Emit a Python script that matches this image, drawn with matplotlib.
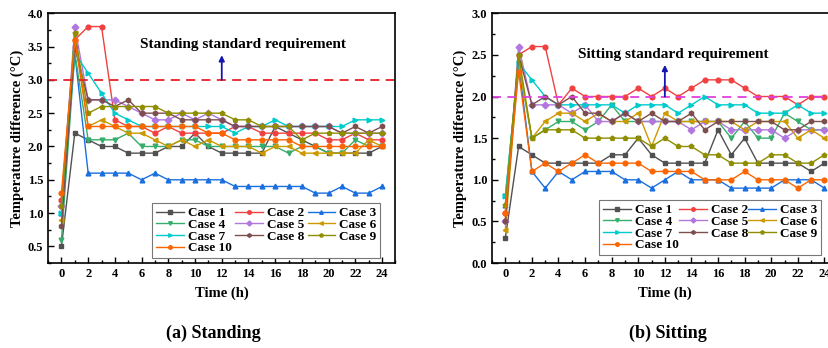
import matplotlib
matplotlib.use("Agg")
import matplotlib.pyplot as plt
from matplotlib.ticker import MultipleLocator

plt.rcParams['font.family'] = ['Liberation Serif', 'DejaVu Serif']
plt.rcParams['font.weight'] = 'bold'
plt.rcParams['axes.labelweight'] = 'bold'

hours = list(range(25))
case_labels = ['Case 1', 'Case 2', 'Case 3', 'Case 4', 'Case 5',
               'Case 6', 'Case 7', 'Case 8', 'Case 9', 'Case 10']

# (a) standing
stand_1 = [0.5, 2.2, 2.1, 2.0, 2.0, 1.9, 1.9, 1.9, 2.0, 2.0, 2.2, 2.0, 1.9, 1.9, 1.9, 1.9, 2.3, 2.2, 2.1, 2.0, 1.9, 1.9, 1.9, 1.9, 2.0]
stand_2 = [1.2, 3.6, 3.8, 3.8, 2.4, 2.3, 2.3, 2.2, 2.3, 2.2, 2.2, 2.2, 2.2, 2.3, 2.3, 2.2, 2.2, 2.2, 2.2, 2.2, 2.1, 2.1, 2.2, 2.1, 2.1]
stand_3 = [1.0, 3.4, 1.6, 1.6, 1.6, 1.6, 1.5, 1.6, 1.5, 1.5, 1.5, 1.5, 1.5, 1.4, 1.4, 1.4, 1.4, 1.4, 1.4, 1.3, 1.3, 1.4, 1.3, 1.3, 1.4]
stand_4 = [0.6, 3.4, 2.1, 2.1, 2.1, 2.2, 2.0, 2.0, 2.0, 2.1, 2.1, 2.0, 2.0, 2.0, 2.0, 2.0, 2.0, 1.9, 2.0, 2.0, 1.9, 1.9, 2.1, 2.0, 2.0]
stand_5 = [1.1, 3.8, 2.7, 2.7, 2.7, 2.6, 2.5, 2.4, 2.4, 2.5, 2.4, 2.5, 2.4, 2.3, 2.3, 2.3, 2.3, 2.3, 2.3, 2.3, 2.3, 2.2, 2.2, 2.2, 2.2]
stand_6 = [0.9, 3.7, 2.3, 2.4, 2.3, 2.2, 2.2, 2.1, 2.0, 2.1, 2.0, 2.1, 2.0, 2.0, 2.0, 1.9, 2.0, 2.0, 1.9, 1.9, 1.9, 1.9, 1.9, 2.1, 2.0]
stand_7 = [1.0, 3.4, 3.1, 2.8, 2.5, 2.4, 2.3, 2.3, 2.3, 2.3, 2.3, 2.3, 2.3, 2.2, 2.3, 2.3, 2.4, 2.3, 2.3, 2.3, 2.3, 2.3, 2.4, 2.4, 2.4]
stand_8 = [0.8, 3.5, 2.7, 2.7, 2.6, 2.7, 2.5, 2.5, 2.5, 2.4, 2.4, 2.4, 2.4, 2.3, 2.3, 2.3, 2.3, 2.3, 2.3, 2.3, 2.3, 2.2, 2.3, 2.2, 2.3]
stand_9 = [1.1, 3.7, 2.5, 2.6, 2.6, 2.6, 2.6, 2.6, 2.5, 2.5, 2.5, 2.5, 2.5, 2.4, 2.4, 2.3, 2.3, 2.3, 2.1, 2.2, 2.2, 2.2, 2.2, 2.2, 2.2]
stand_10 = [1.3, 3.6, 2.3, 2.3, 2.3, 2.3, 2.3, 2.3, 2.3, 2.3, 2.3, 2.2, 2.2, 2.1, 2.1, 2.1, 2.1, 2.1, 2.0, 2.0, 2.0, 2.0, 2.0, 2.0, 2.0]

# (b) sitting
sit_1 = [0.3, 1.4, 1.3, 1.2, 1.2, 1.2, 1.2, 1.2, 1.3, 1.3, 1.5, 1.3, 1.2, 1.2, 1.2, 1.2, 1.6, 1.3, 1.5, 1.2, 1.2, 1.2, 1.2, 1.1, 1.2]
sit_2 = [0.6, 2.5, 2.6, 2.6, 1.9, 2.1, 2.0, 2.0, 2.0, 2.0, 2.1, 2.0, 2.1, 2.0, 2.1, 2.2, 2.2, 2.2, 2.1, 2.0, 2.0, 2.0, 1.9, 2.0, 2.0]
sit_3 = [0.7, 2.4, 1.1, 0.9, 1.1, 1.0, 1.1, 1.1, 1.1, 1.0, 1.0, 0.9, 1.0, 1.1, 1.0, 1.0, 1.0, 0.9, 0.9, 0.9, 0.9, 1.0, 1.0, 1.0, 0.9]
sit_4 = [0.8, 2.4, 1.5, 1.6, 1.7, 1.7, 1.6, 1.7, 1.9, 1.7, 1.7, 1.7, 1.7, 1.7, 1.7, 1.7, 1.7, 1.5, 1.7, 1.5, 1.5, 1.8, 1.7, 1.6, 1.6]
sit_5 = [0.5, 2.6, 1.9, 1.9, 1.9, 1.8, 1.9, 1.7, 1.7, 1.8, 1.7, 1.7, 1.7, 1.7, 1.6, 1.7, 1.7, 1.6, 1.6, 1.6, 1.6, 1.5, 1.6, 1.6, 1.6]
sit_6 = [0.4, 2.4, 1.5, 1.7, 1.8, 1.8, 1.7, 1.8, 1.7, 1.7, 1.8, 1.4, 1.8, 1.7, 1.7, 1.7, 1.7, 1.7, 1.6, 1.7, 1.7, 1.7, 1.5, 1.6, 1.5]
sit_7 = [0.8, 2.4, 2.2, 2.0, 1.9, 1.9, 1.9, 1.9, 1.9, 1.8, 1.9, 1.9, 1.9, 1.8, 1.9, 2.0, 1.9, 1.9, 1.9, 1.8, 1.8, 1.8, 1.9, 1.8, 1.8]
sit_8 = [0.5, 2.5, 1.9, 2.0, 1.9, 2.0, 1.8, 1.8, 1.7, 1.8, 1.7, 1.8, 1.7, 1.7, 1.8, 1.6, 1.7, 1.7, 1.7, 1.7, 1.7, 1.6, 1.6, 1.7, 1.7]
sit_9 = [0.7, 2.5, 1.5, 1.6, 1.6, 1.6, 1.5, 1.5, 1.5, 1.5, 1.5, 1.4, 1.5, 1.4, 1.4, 1.3, 1.3, 1.2, 1.2, 1.2, 1.3, 1.3, 1.2, 1.2, 1.3]
sit_10 = [0.6, 2.3, 1.1, 1.2, 1.1, 1.2, 1.3, 1.2, 1.2, 1.2, 1.2, 1.1, 1.1, 1.1, 1.1, 1.0, 1.0, 1.0, 1.1, 1.0, 1.0, 1.0, 0.9, 1.0, 1.0]

stand_limit = 3.0
sit_limit = 2.0

standing = [stand_1, stand_2, stand_3, stand_4, stand_5, stand_6, stand_7, stand_8, stand_9, stand_10]
sitting = [sit_1, sit_2, sit_3, sit_4, sit_5, sit_6, sit_7, sit_8, sit_9, sit_10]

colors = ['#515151', '#F14040', '#1A6FDF', '#37AD6B', '#B177DE',
          '#CC9900', '#00CBCC', '#7D4E4E', '#8E8E00', '#FB6501']
markers = ['s', 'o', '^', 'v', 'D', '<', '>', 'h', 'p', 'o']


def draw_panel(ax, series, ymax, ymin, limit, limit_color, note, note_x, note_y,
               arrow_top, leg_anchor, colspace):
    for vals, lab, c, m in zip(series, case_labels, colors, markers):
        ax.plot(hours, vals, color=c, marker=m, markersize=3.4, lw=1.0, label=lab)
    ax.axhline(limit, color=limit_color, lw=1.3, ls=(0, (5, 3.5)))
    ax.annotate('', xy=(12, arrow_top), xytext=(12, limit),
                arrowprops=dict(arrowstyle='-|>', color='#1515B0', lw=1.3,
                                mutation_scale=8, shrinkA=0, shrinkB=0))
    ax.text(note_x, note_y, note, ha='center', va='center', fontsize=11, fontweight='bold')

    ax.set_xlim(-1, 25)
    ax.set_ylim(ymin, ymax)
    ax.xaxis.set_major_locator(MultipleLocator(2))
    ax.xaxis.set_minor_locator(MultipleLocator(1))
    ax.yaxis.set_major_locator(MultipleLocator(0.5))
    ax.yaxis.set_minor_locator(MultipleLocator(0.25))
    ax.tick_params(which='both', direction='in', labelsize=9, width=1.0)
    ax.tick_params(which='major', length=4)
    ax.tick_params(which='minor', length=2.5)
    for s in ax.spines.values():
        s.set_linewidth(1.2)
    ax.set_xlabel('Time (h)', fontsize=10.5, labelpad=5)
    ax.set_ylabel('Temperature difference (°C)', fontsize=10.5, labelpad=3)

    # legend rows read across like the original
    h, l = ax.get_legend_handles_labels()
    order = [0, 3, 6, 9, 1, 4, 7, 2, 5, 8]
    leg = ax.legend([h[i] for i in order], [l[i] for i in order], ncol=3,
                    loc='lower right', bbox_to_anchor=leg_anchor,
                    fontsize=9.5, labelspacing=-0.05, handlelength=2.1,
                    handletextpad=0.3, columnspacing=colspace, borderpad=0.3,
                    borderaxespad=0, markerscale=0.75,
                    fancybox=False, framealpha=1)
    leg.get_frame().set_edgecolor('#777777')
    leg.get_frame().set_linewidth(0.8)


fig = plt.figure(figsize=(8.29, 3.48), dpi=100)
ax1 = fig.add_axes([0.058, 0.244, 0.419, 0.718])
ax2 = fig.add_axes([0.5935, 0.244, 0.417, 0.718])

draw_panel(ax1, standing, 4.0, 0.25, stand_limit, '#E8202A',
           'Standing standard requirement', 13.6, 3.53, 3.37, (0.957, 0.02), 0.25)
draw_panel(ax2, sitting, 3.0, 0.0, sit_limit, '#E040E0',
           'Sitting standard requirement', 12.65, 2.5, 2.38, (0.951, 0.032), 0.0)

fig.text(0.257, 0.043, '(a) Standing', ha='center', va='center', fontsize=13, fontweight='bold')
fig.text(0.806, 0.043, '(b) Sitting', ha='center', va='center', fontsize=13, fontweight='bold')

plt.savefig('out.png', dpi=100)
plt.close()
